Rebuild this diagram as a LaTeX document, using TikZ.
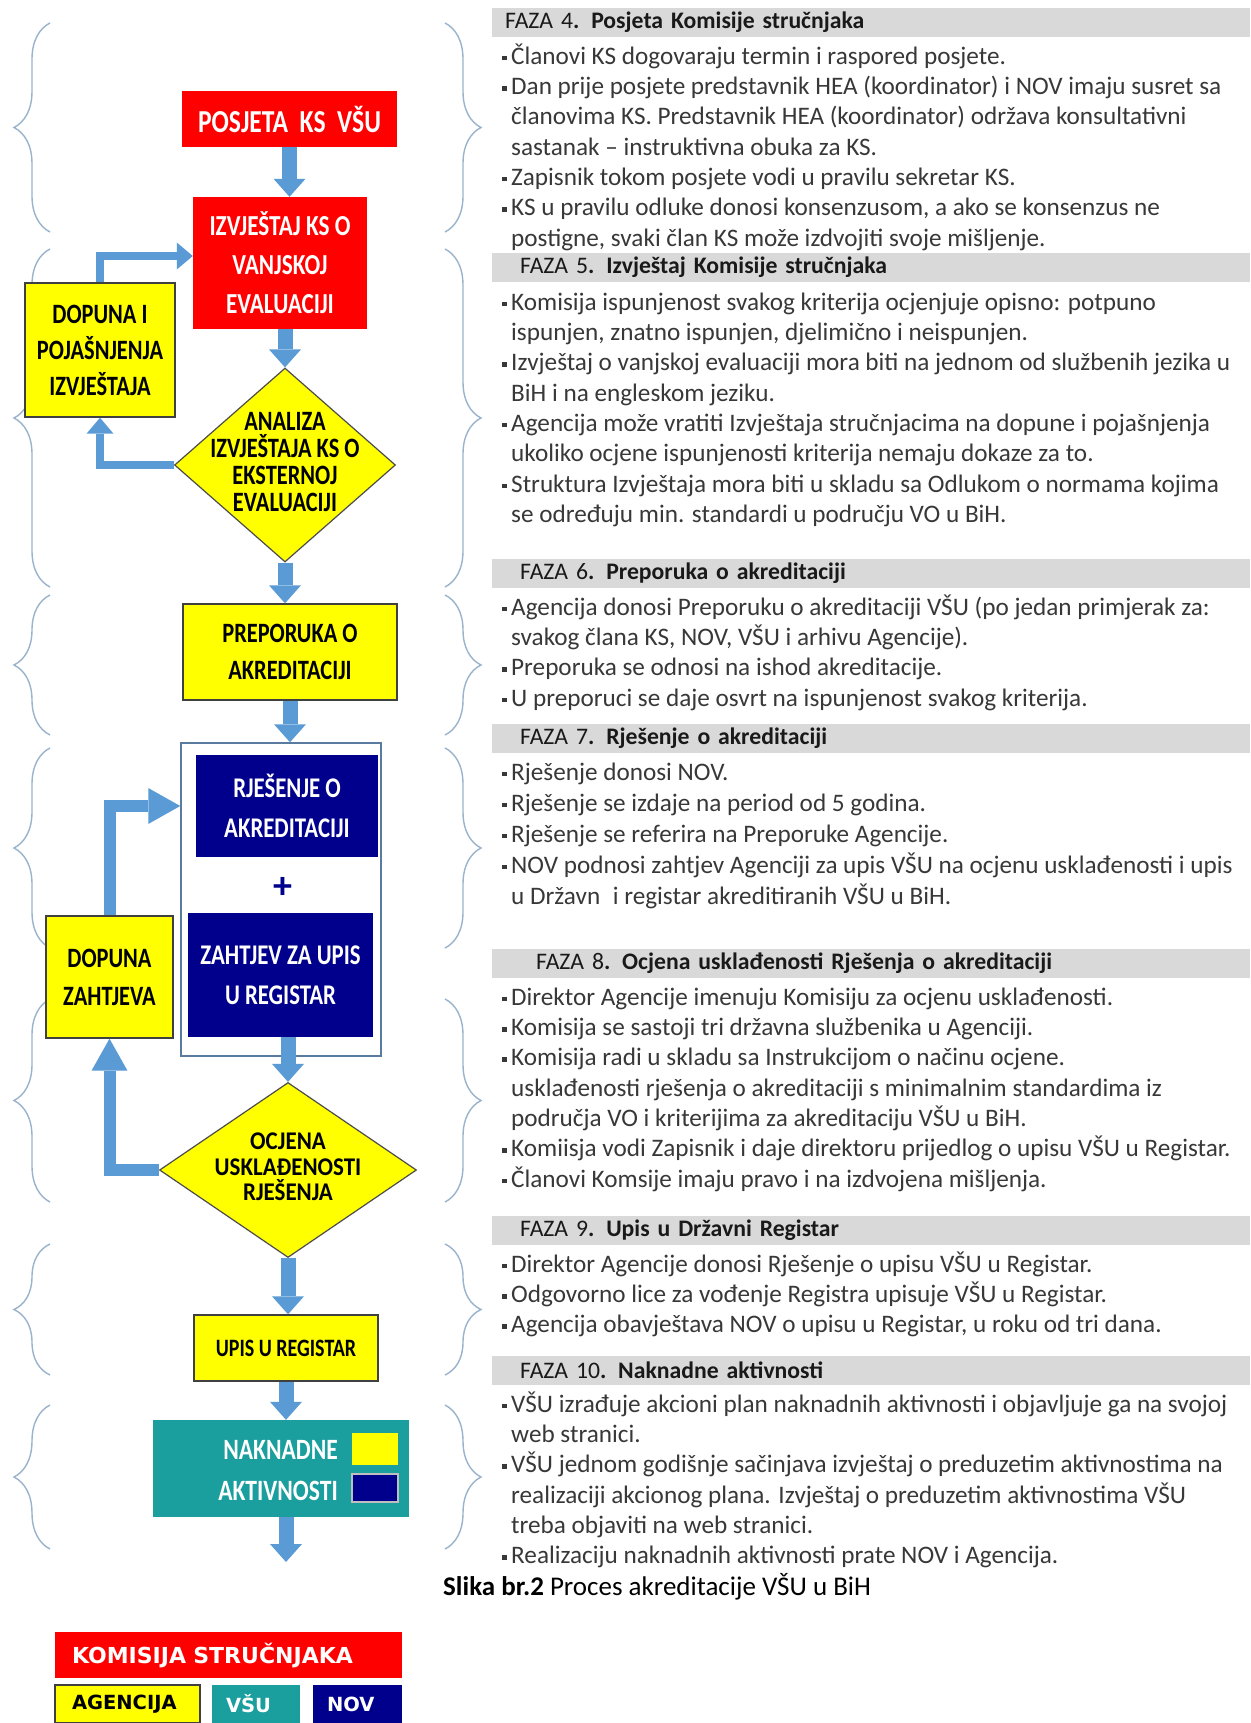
\documentclass[tikz,border=0pt]{standalone}
\usepackage{fontspec}
\setmainfont{Carlito}
\newfontfamily\condfont{Carlito}[FakeStretch=0.8]
\newfontfamily\dfont{Carlito}[FakeStretch=0.9]
\newfontfamily\legfont{DejaVu Sans}
\usetikzlibrary{arrows.meta,shapes.geometric,decorations.pathreplacing}
\definecolor{ksred}{HTML}{FF0000}
\definecolor{agyellow}{HTML}{FFFF00}
\definecolor{novblue}{HTML}{00008C}
\definecolor{vsuteal}{HTML}{1A9E9E}
\definecolor{flowblue}{HTML}{5B9BD5}
\definecolor{bargray}{HTML}{D9D9D9}
\definecolor{bracecol}{HTML}{9AB3CC}
\definecolor{framecol}{HTML}{5A7BA0}
\newcommand{\fzfont}{\fontsize{25.2pt}{30.3pt}\selectfont}
\newcommand{\hdfont}{\fontsize{23.7pt}{28pt}\selectfont}
\newcommand{\boxfont}[2]{\condfont\bfseries\fontsize{#1pt}{#2pt}\selectfont}
\newcommand{\fzbul}{\rule{0pt}{22pt}\makebox[9pt][l]{\raisebox{4pt}{\rule{4.5pt}{4.5pt}}}}
\newcommand{\fzind}{\rule{0pt}{22pt}\hspace*{9pt}}

\begin{document}
\begin{tikzpicture}[x=1pt, y=-1pt,
    flow/.style={draw=flowblue, line width=15pt,
                 -{Triangle[length=18pt, width=32pt, line width=0pt]}},
    loopthin/.style={draw=flowblue, line width=8pt,
                 -{Triangle[length=16pt, width=27pt, line width=0pt]}},
    loopthick/.style={draw=flowblue, line width=12pt,
                 -{Triangle[length=32pt, width=36pt, line width=0pt]}},
    ksbox/.style={rectangle, fill=ksred, text=white, align=center,
                  inner sep=0pt, font=\boxfont{29}{39}},
    agbox/.style={rectangle, fill=agyellow, draw=black!75, line width=1.4pt,
                  text=black, align=center, inner sep=0pt, font=\boxfont{28}{37}},
    novbox/.style={rectangle, fill=novblue, text=white, align=center,
                   inner sep=0pt, font=\boxfont{28.5}{40}},
    decision/.style={diamond, fill=agyellow, draw=black!70, line width=1.2pt,
                     inner sep=0pt},
    dtext/.style={align=center, inner sep=0pt, text=black},
    lbrace/.style={decorate, decoration={brace, amplitude=36pt},
                   draw=bracecol, line width=1.4pt},
    fazabar/.style={rectangle, fill=bargray, anchor=west, inner xsep=0pt,
                    inner ysep=0pt, minimum height=29pt, text width=758pt,
                    align=left, font=\hdfont, text=black!90},
    fazatext/.style={anchor=north west, inner sep=0pt, align=left,
                     font=\fzfont, text=black!78},
    legendbox/.style={rectangle, inner ysep=0pt, align=left,
                      font=\legfont\bfseries\fontsize{19.5pt}{22pt}\selectfont}]

\useasboundingbox (0,0) rectangle (1250,1723);
\fill[white] (0,0) rectangle (1250,1723);

% Braces on both sides of every phase
\draw[lbrace] (50,232) -- (50,23);
\draw[lbrace] (50,587) -- (50,249);
\draw[lbrace] (50,735) -- (50,595);
\draw[lbrace] (50,948) -- (50,748);
\draw[lbrace] (50,1202) -- (50,999);
\draw[lbrace] (50,1375) -- (50,1244);
\draw[lbrace] (50,1549) -- (50,1405);
\draw[lbrace] (445,23) -- (445,232);
\draw[lbrace] (445,249) -- (445,587);
\draw[lbrace] (445,595) -- (445,735);
\draw[lbrace] (445,748) -- (445,948);
\draw[lbrace] (445,999) -- (445,1202);
\draw[lbrace] (445,1244) -- (445,1375);
\draw[lbrace] (445,1405) -- (445,1549);

% Phase headings
\node[fazabar] (faza4) at (492, 22.5)
  {\hspace*{13pt}FAZA 4\textbf{. Posjeta Komisije stručnjaka}};
\node[fazabar] (faza5) at (492, 267.5)
  {\hspace*{28pt}FAZA 5\textbf{. Izvještaj Komisije stručnjaka}};
\node[fazabar] (faza6) at (492, 573.5)
  {\hspace*{28pt}FAZA 6\textbf{. Preporuka o akreditaciji}};
\node[fazabar] (faza7) at (492, 738)
  {\hspace*{28pt}FAZA 7\textbf{. Rješenje o akreditaciji}};
\node[fazabar] (faza8) at (492, 963)
  {\hspace*{44pt}FAZA 8\textbf{. Ocjena usklađenosti Rješenja o akreditaciji}};
\node[fazabar] (faza9) at (492, 1230)
  {\hspace*{28pt}FAZA 9\textbf{. Upis u Državni Registar}};
\node[fazabar] (faza10) at (492, 1370)
  {\hspace*{28pt}FAZA 10\textbf{. Naknadne aktivnosti}};

% Phase descriptions
\node[fazatext] (tekst4) at (502, 42) {%
  \fzbul Članovi KS dogovaraju termin i raspored posjete.\\
  \fzbul Dan prije posjete predstavnik HEA (koordinator) i NOV imaju susret sa\\
  \fzind članovima KS. Predstavnik HEA (koordinator) održava konsultativni\\
  \fzind sastanak – instruktivna obuka za KS.\\
  \fzbul Zapisnik tokom posjete vodi u pravilu sekretar KS.\\
  \fzbul KS u pravilu odluke donosi konsenzusom, a ako se konsenzus ne\\
  \fzind postigne, svaki član KS može izdvojiti svoje mišljenje.};
\node[fazatext] (tekst5) at (502, 288) {%
  \fzbul Komisija ispunjenost svakog kriterija ocjenjuje opisno: potpuno\\
  \fzind ispunjen, znatno ispunjen, djelimično i neispunjen.\\
  \fzbul Izvještaj o vanjskoj evaluaciji mora biti na jednom od službenih jezika u\\
  \fzind BiH i na engleskom jeziku.\\
  \fzbul Agencija može vratiti Izvještaja stručnjacima na dopune i pojašnjenja\\
  \fzind ukoliko ocjene ispunjenosti kriterija nemaju dokaze za to.\\
  \fzbul Struktura Izvještaja mora biti u skladu sa Odlukom o normama kojima\\
  \fzind se određuju min. standardi u području VO u BiH.};
\node[fazatext] (tekst6) at (502, 593) {%
  \fzbul Agencija donosi Preporuku o akreditaciji VŠU (po jedan primjerak za:\\
  \fzind svakog člana KS, NOV, VŠU i arhivu Agencije).\\
  \fzbul Preporuka se odnosi na ishod akreditacije.\\
  \fzbul U preporuci se daje osvrt na ispunjenost svakog kriterija.};
\node[fazatext, font=\fontsize{25.2pt}{31pt}\selectfont] (tekst7) at (502, 758) {%
  \fzbul Rješenje donosi NOV.\\
  \fzbul Rješenje se izdaje na period od 5 godina.\\
  \fzbul Rješenje se referira na Preporuke Agencije.\\
  \fzbul NOV podnosi zahtjev Agenciji za upis VŠU na ocjenu usklađenosti i upis\\
  \fzind u Državn\enspace i registar akreditiranih VŠU u BiH.};
\node[fazatext] (tekst8) at (502, 983) {%
  \fzbul Direktor Agencije imenuju Komisiju za ocjenu usklađenosti.\\
  \fzbul Komisija se sastoji tri državna službenika u Agenciji.\\
  \fzbul Komisija radi u skladu sa Instrukcijom o načinu ocjene.\\
  \fzind usklađenosti rješenja o akreditaciji s minimalnim standardima iz\\
  \fzind područja VO i kriterijima za akreditaciju VŠU u BiH.\\
  \fzbul Komiisja vodi Zapisnik i daje direktoru prijedlog o upisu VŠU u Registar.\\
  \fzbul Članovi Komsije imaju pravo i na izdvojena mišljenja.};
\node[fazatext] (tekst9) at (502, 1250) {%
  \fzbul Direktor Agencije donosi Rješenje o upisu VŠU u Registar.\\
  \fzbul Odgovorno lice za vođenje Registra upisuje VŠU u Registar.\\
  \fzbul Agencija obavještava NOV o upisu u Registar, u roku od tri dana.};
\node[fazatext] (tekst10) at (502, 1390) {%
  \fzbul VŠU izrađuje akcioni plan naknadnih aktivnosti i objavljuje ga na svojoj\\
  \fzind web stranici.\\
  \fzbul VŠU jednom godišnje sačinjava izvještaj o preduzetim aktivnostima na\\
  \fzind realizaciji akcionog plana. Izvještaj o preduzetim aktivnostima VŠU\\
  \fzind treba objaviti na web stranici.\\
  \fzbul Realizaciju naknadnih aktivnosti prate NOV i Agencija.};

% Caption
\node[anchor=base west, inner sep=0pt, font=\fontsize{27pt}{30pt}\selectfont]
  (slika) at (443, 1595) {\textbf{Slika br.2} Proces akreditacije VŠU u BiH};

% Flow: visit and report
\node[ksbox, minimum width=215pt, minimum height=56pt, font=\boxfont{32}{36}]
  (posjeta) at (289.5, 119) {POSJETA\ \ KS\ \ VŠU};
\node[ksbox, minimum width=174pt, minimum height=132pt]
  (izvjestaj) at (280, 263) {IZVJEŠTAJ KS O\\VANJSKOJ\\EVALUACIJI};
\node[agbox, minimum width=150pt, minimum height=134pt, font=\boxfont{28}{36}]
  (dopunaizv) at (100, 350) {DOPUNA I\\POJAŠNJENJA\\IZVJEŠTAJA};
\node[decision, minimum width=221pt, minimum height=194pt] (analiza) at (285, 465) {};
\node[dtext, font=\boxfont{28}{27}] (analizatxt) at (285, 462)
  {ANALIZA\\IZVJEŠTAJA KS O\\EKSTERNOJ\\EVALUACIJI};

% Flow: recommendation and decision
\node[agbox, minimum width=214pt, minimum height=96pt]
  (preporuka) at (290, 652) {PREPORUKA O\\AKREDITACIJI};
\node[rectangle, draw=framecol, line width=1.5pt, fill=white,
      minimum width=200pt, minimum height=313pt] (okvir) at (281, 899.5) {};
\node[novbox, minimum width=182pt, minimum height=102pt]
  (rjesenje) at (287, 806) {RJEŠENJE O\\AKREDITACIJI};
\node[text=novblue, inner sep=0pt, font=\bfseries\fontsize{38pt}{38pt}\selectfont]
  (plus) at (283, 888) {+};
\node[novbox, minimum width=185pt, minimum height=124pt]
  (zahtjev) at (280.5, 975) {ZAHTJEV ZA UPIS\\U REGISTAR};
\node[agbox, minimum width=127pt, minimum height=122pt, font=\boxfont{28}{38}]
  (dopunazah) at (109.5, 977) {DOPUNA\\ZAHTJEVA};
\node[decision, minimum width=257pt, minimum height=175pt] (ocjena) at (288, 1170) {};
\node[dtext, font=\dfont\bfseries\fontsize{25.5pt}{25.5pt}\selectfont] (ocjenatxt)
  at (288, 1167) {OCJENA\\USKLAĐENOSTI\\RJEŠENJA};

% Flow: register and follow-up
\node[agbox, minimum width=184pt, minimum height=66pt, font=\boxfont{25}{30}]
  (upis) at (286, 1348) {UPIS U REGISTAR};
\node[rectangle, fill=vsuteal, minimum width=256pt, minimum height=97pt]
  (naknadne) at (281, 1468.5) {};
\node[anchor=east, align=right, inner sep=0pt, text=white, font=\boxfont{29.5}{41}]
  (naknadnetxt) at (338, 1470.5) {NAKNADNE\\AKTIVNOSTI};
\node[rectangle, fill=agyellow, minimum width=46pt, minimum height=32pt]
  (kvadag) at (375, 1449) {};
\node[rectangle, fill=novblue, draw=black!25, line width=1.5pt,
      minimum width=46pt, minimum height=28pt] (kvadnov) at (375, 1488) {};
\coordinate (kraj) at (286, 1562);

% Block arrows down the chain
\draw[flow] (posjeta.south) -- (posjeta.south |- izvjestaj.north);
\draw[flow] (izvjestaj.south -| analiza.north) -- (analiza.north);
\draw[flow] (analiza.south) -- (analiza.south |- preporuka.north);
\draw[flow] (preporuka.south) -- (preporuka.south |- okvir.north);
\draw[flow] (zahtjev.south -| ocjena.north) -- (ocjena.north);
\draw[flow] (ocjena.south) -- (ocjena.south |- upis.north);
\draw[flow] (upis.south) -- (upis.south |- naknadne.north);
\draw[flow] (naknadne.south -| kraj) -- (kraj);

% Return loops
\draw[loopthin] (dopunaizv.north) |- ([yshift=7pt]izvjestaj.west);
\draw[loopthin] (analiza.west) -| (dopunaizv.south);
\draw[loopthick] (dopunazah.north) |- (okvir.west |- rjesenje.west);
\draw[loopthick] (ocjena.west) -| (dopunazah.south);

% Legend
\node[legendbox, fill=ksred, text=white, inner xsep=17pt, text width=313pt,
      minimum height=46pt, font=\legfont\bfseries\fontsize{22pt}{24pt}\selectfont]
  (legks) at (228.5, 1655) {KOMISIJA STRUČNJAKA};
\node[legendbox, fill=agyellow, draw=black!75, line width=1.4pt, text=black,
      inner xsep=17pt, text width=111pt, minimum height=38pt] (legag) at (127.5, 1704) {AGENCIJA};
\node[legendbox, fill=vsuteal, text=white, inner xsep=14pt, text width=60pt,
      minimum height=38pt] (legvsu) at (256, 1704) {VŠU};
\node[legendbox, fill=novblue, text=white, inner xsep=14pt, text width=61pt,
      minimum height=38pt] (legnov) at (357.5, 1704) {NOV};

\end{tikzpicture}
\end{document}
